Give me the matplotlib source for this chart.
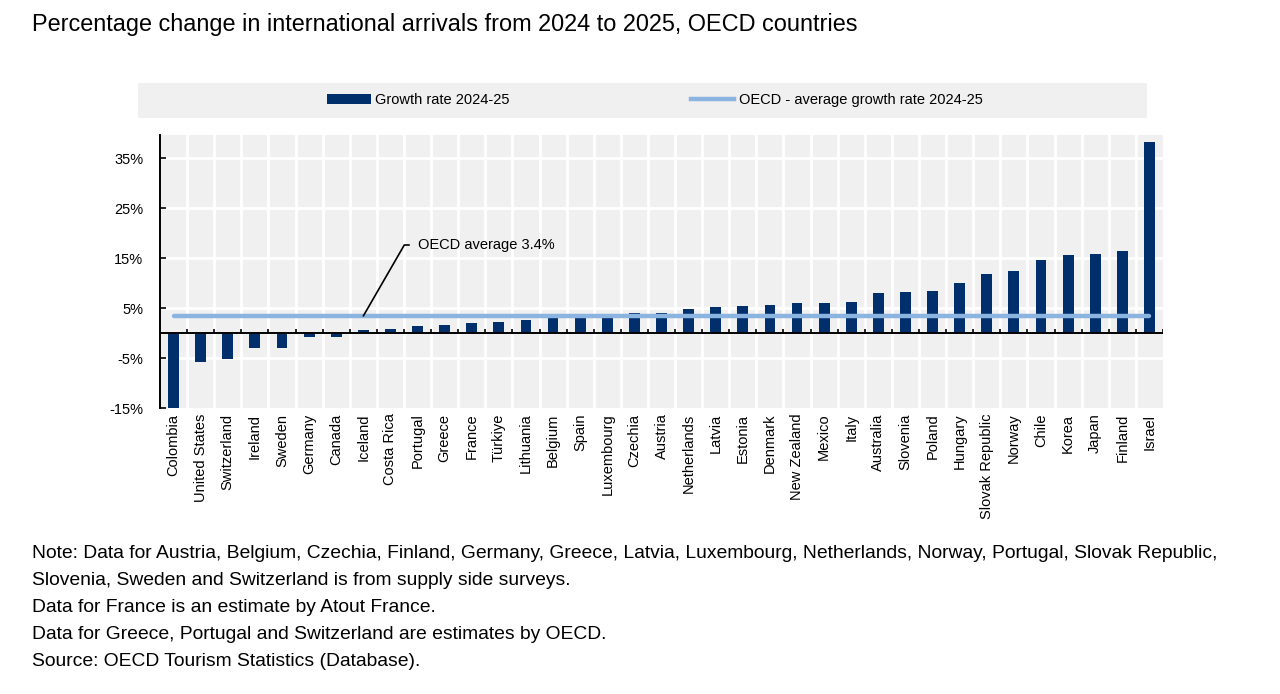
import matplotlib
matplotlib.use('Agg')
import matplotlib.pyplot as plt
from matplotlib.patches import Rectangle, Patch
from matplotlib.lines import Line2D
from matplotlib import font_manager
import numpy as np

# Chart data
countries = ['Colombia', 'United States', 'Switzerland', 'Ireland', 'Sweden', 'Germany',
             'Canada', 'Iceland', 'Costa Rica', 'Portugal', 'Greece', 'France', 'Türkiye',
             'Lithuania', 'Belgium', 'Spain', 'Luxembourg', 'Czechia', 'Austria',
             'Netherlands', 'Latvia', 'Estonia', 'Denmark', 'New Zealand', 'Mexico', 'Italy',
             'Australia', 'Slovenia', 'Poland', 'Hungary', 'Slovak Republic', 'Norway',
             'Chile', 'Korea', 'Japan', 'Finland', 'Israel']
growth = [-15.6, -5.7, -5.1, -2.9, -2.9, -0.8, -0.7, 0.7, 0.9, 1.4, 1.7, 2.1, 2.3,
          2.7, 3.1, 3.1, 3.1, 4.1, 4.1, 4.9, 5.3, 5.5, 5.7, 6.0, 6.1, 6.2,
          8.0, 8.3, 8.5, 10.1, 11.9, 12.4, 14.6, 15.6, 15.8, 16.5, 38.2]
oecd_avg = 3.4
y_ticks = [-15, -5, 5, 15, 25, 35]
y_labels = ['-15%', '-5%', '5%', '15%', '25%', '35%']

title = 'Percentage change in international arrivals from 2024 to 2025, OECD countries'
notes = [
    'Note: Data for Austria, Belgium, Czechia, Finland, Germany, Greece, Latvia, Luxembourg, Netherlands, Norway, Portugal, Slovak Republic,',
    'Slovenia, Sweden and Switzerland is from supply side surveys.',
    'Data for France is an estimate by Atout France.',
    'Data for Greece, Portugal and Switzerland are estimates by OECD.',
    'Source: OECD Tourism Statistics (Database).',
]

BAR = '#002F6C'
AVG = '#8CB4E0'
BG = '#F0F0F0'

installed = {f.name for f in font_manager.fontManager.ttflist}
narrow = ['Liberation Sans Narrow', 'Liberation Sans'] if 'Liberation Sans Narrow' in installed else ['Liberation Sans']
plt.rcParams['font.family'] = ['Liberation Sans', 'DejaVu Sans']

W, H = 1280, 694
fig = plt.figure(figsize=(W / 100, H / 100), dpi=100)

def fx(px):
    return px / W

def fy(py):
    return 1 - py / H

ax = fig.add_axes([fx(160), fy(408), fx(1163) - fx(160), fy(135) - fy(408)])
ax.set_facecolor(BG)

x = np.arange(len(countries))
ax.set_xlim(-0.5, len(countries) - 0.5)
ax.set_ylim(-15, 39.6)

# white grid
for b in x[:-1] + 0.5:
    ax.axvline(b, color='white', lw=2, zorder=1)
for t in y_ticks[1:]:
    ax.axhline(t, color='white', lw=2, zorder=1)

ax.bar(x, growth, width=0.4, color=BAR, zorder=3, clip_on=True)
ax.plot(x, [oecd_avg] * len(x), color=AVG, lw=3.2, solid_capstyle='round', zorder=4)

# zero axis with small ticks between categories
ax.axhline(0, color='black', lw=1.4, zorder=5)
ax.vlines(list(x[:-1] + 0.5) + [len(x) - 0.5], 0, 0.8, color='black', lw=1.2, zorder=5)

for s in ['top', 'right', 'bottom']:
    ax.spines[s].set_visible(False)
ax.spines['left'].set_linewidth(1.4)
ax.spines['left'].set_zorder(6)

ax.set_yticks(y_ticks)
ax.set_yticklabels(y_labels, family=narrow, fontsize=10.5)
ax.tick_params(axis='y', direction='in', length=4, width=1.2, pad=12)
ax.set_xticks(x)
ax.set_xticklabels(countries, rotation=90, family=narrow, fontsize=10.5)
ax.tick_params(axis='x', length=0, pad=4)

ax.annotate(f'OECD average {oecd_avg}%', xy=(7, oecd_avg), xytext=(9.0, 17.6),
            ha='left', va='center', fontsize=10.5, family=narrow,
            arrowprops=dict(arrowstyle='-', color='black', lw=1.2,
                            connectionstyle='angle,angleA=0,angleB=60,rad=0',
                            shrinkA=4, shrinkB=0),
            zorder=7)

# legend band
fig.patches.append(Rectangle((fx(138), fy(118)), fx(1147) - fx(138), fy(83) - fy(118),
                             transform=fig.transFigure, facecolor=BG, edgecolor='none', zorder=0))
handles = [Patch(facecolor=BAR, edgecolor='none'),
           Line2D([0], [0], color=AVG, lw=3.2)]
fig.legend(handles, ['Growth rate 2024-25', 'OECD - average growth rate 2024-25'],
           loc='center', bbox_to_anchor=(fx(655), fy(100)), ncol=2, frameon=False,
           prop={'family': narrow, 'size': 10.5}, handlelength=3.0, handleheight=0.7,
           handletextpad=0.3, columnspacing=12.4)

fig.text(fx(32), fy(25), title, fontsize=16.9, va='center', ha='left')
for i, line in enumerate(notes):
    fig.text(fx(32), fy(553 + i * 27.2), line, fontsize=13.85, va='center', ha='left')

fig.savefig('out.png', dpi=100)
